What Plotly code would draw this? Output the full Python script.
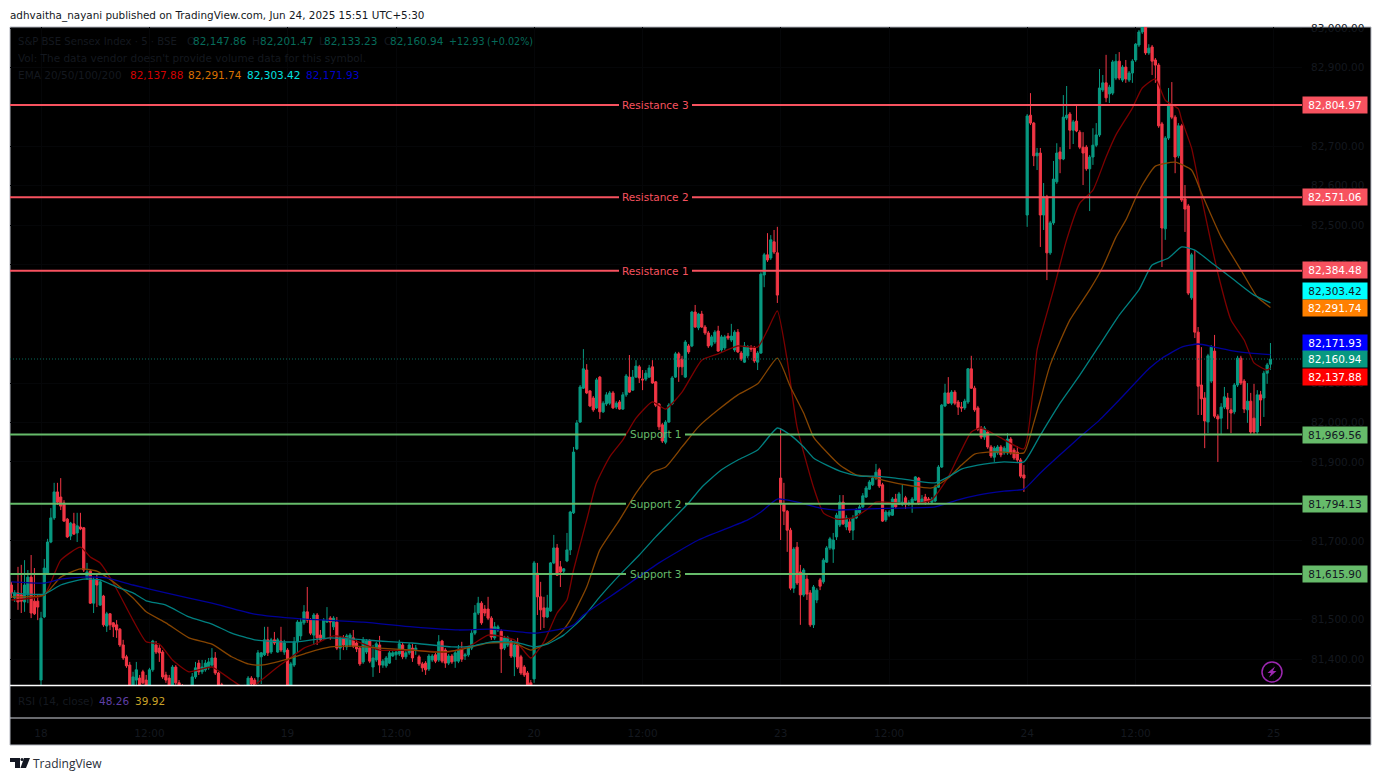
import plotly.graph_objects as go

W, H = 1381, 780

opens = [
81588,81555,81568,81563,81545,81563,81608,81547,81547,81347,
81507,81618,81697,81758,81824,81811,81796,81755,81712,81743,
81720,81735,81733,81606,81623,81542,81603,81537,81560,81484,
81515,81492,81487,81476,81436,81406,81385,81329,81347,81352,
81368,81347,81322,81373,81436,81428,81418,81360,81352,81322,
81380,81340,81332,81322,81302,81317,81355,81390,81368,81373,
81378,81385,81403,81365,81335,81317,81296,81314,81291,81309,
81289,81304,81322,81352,81347,81355,81406,81411,81449,81418,
81449,81418,81446,81418,81423,81322,81385,81444,81459,81492,
81520,81499,81461,81512,81461,81454,81494,81504,81482,81494,
81428,81454,81431,81436,81454,81441,81428,81393,81418,81446,
81380,81398,81436,81385,81383,81390,81408,81411,81413,81436,
81406,81416,81428,81423,81406,81388,81390,81375,81398,81411,
81398,81446,81423,81390,81408,81395,81395,81426,81408,81411,
81428,81466,81517,81542,81527,81527,81504,81454,81474,81471,
81428,81436,81446,81406,81436,81406,81380,81365,81340,81350,
81618,81558,81530,81507,81522,81644,81682,81634,81623,81649,
81677,81771,81933,82001,82087,82133,82080,82062,82037,82115,
82027,82047,82049,82075,82039,82052,82034,82070,82115,82082,
82115,82141,82110,82110,82115,82141,82103,82047,81994,81950,
82001,82047,82115,82174,82161,82115,82194,82194,82280,82240,
82275,82242,82227,82196,82204,82232,82184,82189,82219,82209,
82184,82229,82176,82153,82169,82189,82189,82153,82176,82374,
82425,82417,82458,82430,81859,81793,81775,81727,81580,81684,
81621,81563,81603,81568,81487,81550,81601,81596,81646,81682,
81679,81710,81740,81798,81735,81748,81727,81758,81771,81786,
81811,81831,81842,81859,81880,81842,81753,81765,81765,81806,
81793,81793,81809,81793,81793,81803,81859,81796,81811,81806,
81798,81801,81836,81887,82042,82075,82049,82077,82052,82039,
82037,82052,82136,82087,82037,81986,81963,81976,81938,81912,
81923,81938,81923,81923,81958,81930,81925,81905,81867,82526,
82779,82759,82676,82683,82526,82572,82430,82506,82610,82686,
82668,82772,82782,82741,82764,82736,82698,82698,82643,82673,
82703,82729,82843,82861,82833,82835,82873,82916,82868,82901,
82868,82886,82919,82957,82990,83003,82937,82952,82919,82906,
82757,82491,82721,82802,82774,82676,82752,82567,82549,82316,
82384,82229,82095,82062,82001,82105,82181,82016,82011,82039,
82062,82032,82027,82095,82163,82105,82032,82054,82011,81976,
82070,82062,82125,82147.86,
]

highs = [
81596,81575,81634,81639,81651,81626,81664,81631,81563,81520,
81654,81705,81783,81847,81847,81859,81803,81758,81748,81771,
81771,81771,81735,81644,81626,81608,81618,81601,81563,81520,
81517,81494,81499,81479,81449,81411,81393,81368,81393,81360,
81373,81360,81378,81449,81446,81436,81423,81368,81360,81385,
81385,81347,81337,81327,81322,81365,81393,81398,81398,81398,
81403,81428,81418,81368,81340,81322,81322,81319,81317,81322,
81322,81335,81357,81357,81352,81423,81418,81482,81482,81454,
81469,81454,81482,81449,81428,81393,81456,81499,81504,81537,
81583,81504,81517,81517,81474,81504,81532,81509,81509,81507,
81459,81461,81464,81466,81474,81449,81433,81456,81451,81451,
81436,81444,81459,81400,81408,81421,81421,81423,81449,81441,
81423,81441,81439,81436,81411,81393,81395,81413,81413,81416,
81461,81449,81428,81413,81413,81421,81436,81444,81416,81433,
81474,81537,81558,81547,81537,81558,81509,81494,81487,81476,
81459,81459,81451,81441,81454,81411,81385,81370,81347,81649,
81644,81596,81558,81563,81646,81715,81692,81649,81631,81720,
81776,81938,82006,82095,82186,82148,82082,82067,82113,82118,
82054,82077,82080,82080,82054,82057,82077,82123,82171,82133,
82158,82146,82133,82133,82146,82158,82105,82049,81999,82006,
82049,82118,82179,82179,82169,82209,82199,82283,82298,82278,
82283,82247,82232,82222,82234,82245,82222,82222,82227,82250,
82234,82237,82181,82204,82196,82196,82194,82181,82381,82430,
82480,82475,82488,82496,81986,81847,81778,81733,81684,81697,
81639,81631,81613,81575,81588,81580,81606,81656,81687,81710,
81720,81771,81816,81816,81765,81758,81765,81783,81791,81821,
81839,81854,81864,81895,81885,81847,81778,81778,81811,81819,
81824,81842,81814,81803,81811,81864,81862,81816,81819,81811,
81811,81842,81892,82047,82098,82115,82082,82082,82057,82052,
82060,82138,82169,82093,82042,81991,81991,81981,81943,81940,
81943,81943,81940,81973,81963,81935,81940,81910,81892,82782,
82835,82762,82696,82696,82607,82577,82511,82663,82708,82698,
82830,82853,82787,82767,82805,82741,82736,82703,82678,82746,
82759,82896,82881,82932,82856,82919,82934,82939,82906,82919,
82891,82921,82962,82995,83020,83020,82959,82957,82924,82911,
82762,82726,82848,82863,82779,82759,82757,82602,82554,82430,
82437,82242,82191,82077,82174,82196,82222,82021,82049,82090,
82075,82062,82100,82169,82169,82110,82100,82075,82098,82082,
82080,82131,82151,82201.47,
]

lows = [
81555,81545,81525,81517,81520,81542,81504,81512,81499,81322,
81504,81616,81694,81753,81791,81778,81748,81707,81702,81715,
81697,81727,81621,81601,81540,81517,81532,81535,81482,81469,
81474,81456,81454,81431,81398,81378,81322,81317,81332,81317,
81337,81317,81317,81368,81413,81393,81350,81340,81322,81317,
81335,81322,81309,81296,81296,81312,81350,81360,81362,81368,
81373,81380,81360,81327,81296,81289,81284,81284,81281,81279,
81284,81296,81317,81332,81317,81337,81337,81408,81408,81413,
81436,81416,81418,81411,81317,81317,81380,81416,81449,81487,
81492,81461,81436,81436,81444,81449,81492,81449,81474,81423,
81398,81423,81423,81431,81428,81418,81383,81388,81413,81390,
81355,81393,81365,81378,81378,81388,81406,81398,81408,81400,
81400,81411,81393,81411,81383,81368,81360,81370,81393,81390,
81393,81390,81378,81385,81388,81378,81390,81393,81398,81406,
81423,81461,81512,81487,81509,81499,81449,81449,81469,81365,
81423,81431,81403,81357,81375,81360,81355,81329,81322,81340,
81512,81474,81479,81504,81520,81641,81611,81583,81618,81646,
81664,81768,81930,81999,82085,82072,82039,82027,82034,82009,
82024,82042,82044,82034,82034,82032,82032,82065,82075,82080,
82113,82100,82082,82105,82113,82098,82039,81981,81948,81945,
81999,82044,82113,82103,82120,82113,82174,82191,82240,82234,
82240,82222,82189,82191,82199,82179,82179,82184,82209,82204,
82179,82176,82156,82151,82163,82179,82151,82133,82174,82343,
82407,82412,82427,82303,81702,81740,81672,81575,81568,81588,
81487,81558,81550,81482,81479,81542,81575,81591,81644,81677,
81644,81702,81735,81740,81727,81720,81702,81755,81765,81783,
81809,81829,81839,81854,81834,81748,81748,81760,81763,81781,
81791,81788,81781,81788,81771,81801,81791,81793,81791,81793,
81793,81798,81834,81885,82039,82047,82044,82044,82019,82027,
82032,82047,82085,82027,81978,81958,81956,81933,81910,81900,
81918,81912,81918,81918,81918,81905,81900,81859,81824,82496,
82754,82650,82640,82445,82488,82361,82425,82501,82605,82632,
82665,82767,82693,82706,82736,82693,82602,82638,82536,82653,
82698,82724,82838,82812,82810,82830,82868,82868,82863,82861,
82863,82861,82914,82952,82985,82932,82932,82881,82861,82747,
82394,82463,82716,82769,82632,82670,82559,82483,82323,82311,
82214,82019,82019,81935,81973,82100,82011,81900,81968,82034,
81983,81973,82021,82090,82095,82024,81999,81971,81971,81971,
81991,82014,82098,82133.23,
]

closes = [
81568,81568,81545,81547,81588,81608,81517,81515,81532,81504,
81631,81697,81758,81824,81798,81788,81750,81710,81745,81717,
81738,81730,81626,81621,81542,81601,81588,81596,81487,81515,
81487,81482,81474,81436,81403,81383,81329,81355,81373,81327,
81340,81322,81373,81446,81418,81416,81355,81347,81327,81380,
81340,81329,81317,81302,81317,81355,81378,81368,81380,81390,
81393,81403,81365,81335,81309,81296,81314,81291,81309,81289,
81317,81327,81352,81337,81322,81416,81416,81449,81416,81449,
81441,81449,81423,81441,81322,81388,81444,81494,81494,81520,
81499,81466,81512,81454,81449,81499,81499,81494,81504,81428,
81454,81436,81459,81461,81433,81426,81388,81449,81446,81395,
81403,81439,81385,81395,81403,81416,81416,81418,81439,81406,
81416,81436,81403,81428,81388,81378,81373,81408,81408,81395,
81444,81395,81390,81408,81393,81416,81426,81400,81411,81428,
81466,81517,81542,81492,81517,81504,81456,81482,81482,81426,
81454,81454,81408,81436,81380,81365,81360,81335,81327,81644,
81558,81525,81507,81530,81644,81682,81613,81621,81629,81677,
81773,81925,81999,82090,82136,82075,82042,82032,82108,82027,
82049,82070,82075,82037,82049,82034,82070,82118,82077,82115,
82143,82113,82108,82125,82138,82100,82044,81989,81953,82001,
82044,82113,82174,82141,82141,82204,82179,82280,82242,82275,
82242,82227,82194,82217,82229,82181,82217,82217,82214,82219,
82229,82179,82161,82194,82191,82186,82156,82176,82376,82425,
82412,82463,82432,82323,81793,81775,81727,81580,81679,81593,
81563,81626,81565,81487,81583,81575,81585,81651,81682,81705,
81702,81765,81798,81743,81758,81727,81758,81778,81786,81814,
81834,81849,81859,81874,81839,81750,81773,81773,81806,81786,
81819,81798,81793,81796,81806,81862,81796,81806,81798,81801,
81806,81836,81887,82044,82075,82049,82077,82049,82039,82037,
82054,82136,82087,82032,81983,81963,81986,81938,81915,81935,
81938,81918,81935,81958,81923,81910,81905,81864,81859,82777,
82759,82676,82683,82526,82572,82430,82506,82617,82683,82668,
82774,82779,82741,82762,82739,82698,82683,82643,82673,82703,
82729,82848,82861,82823,82850,82914,82916,82873,82901,82871,
82886,82916,82959,82990,83003,82937,82949,82916,82906,82752,
82493,82721,82802,82774,82673,82752,82564,82541,82328,82425,
82229,82092,82060,82004,82169,82191,82016,82009,82039,82065,
82034,82024,82095,82163,82100,82034,82054,81976,81976,82070,
82057,82125,82146,82160.94,
]

bars = list(range(-9, 375))

ema20_bar = [-9,1,6,12,15,18,22,28,32,36,40,45,52,58,63,67,72,75,80,84,89,95,103,113,124,131,136,144,149,153,157,160,162,166,169,173,177,181,186,190,195,201,206,212,218,221,224,227,230,235,238,242,247,251,254,260,265,271,276,279,283,286,292,299,302,303,308,312,316,320,324,327,332,335,339,342,346,347,350,353,358,362,366,369,373,374]
ema20_val = [81550,81563,81651,81684,81659,81644,81593,81499,81444,81438,81398,81368,81380,81347,81322,81347,81380,81398,81428,81441,81459,81449,81423,81423,81418,81436,81461,81449,81403,81444,81517,81550,81626,81753,81847,81913,81956,82011,82052,82034,82077,82158,82174,82194,82191,82234,82283,82158,81989,81836,81771,81755,81758,81778,81798,81796,81793,81804,81862,81913,81976,81986,81961,81933,82100,82184,82336,82463,82556,82589,82673,82729,82797,82848,82871,82817,82795,82767,82696,82572,82379,82260,82209,82151,82133,82137.88]

ema50_bar = [-9,1,6,12,17,22,28,32,38,45,52,58,63,67,75,81,88,95,103,113,120,127,136,144,149,154,158,161,166,170,176,181,186,190,195,200,206,212,218,224,228,232,235,239,243,248,253,257,265,271,276,280,284,288,293,299,302,304,307,313,319,323,327,330,333,335,339,345,350,353,359,365,370,374]
ema50_val = [81558,81563,81608,81629,81623,81596,81555,81520,81492,81454,81438,81406,81388,81385,81400,81416,81431,81433,81428,81423,81418,81423,81441,81441,81423,81441,81466,81499,81583,81677,81753,81821,81874,81887,81938,81989,82032,82070,82098,82163,82090,82024,81963,81925,81892,81867,81862,81852,81839,81834,81859,81892,81920,81925,81925,81923,81999,82057,82146,82260,82336,82394,82470,82513,82569,82602,82650,82660,82640,82582,82470,82387,82318,82291.74]

ema100_bar = [-9,1,6,13,18,23,28,32,38,45,52,58,65,73,78,88,103,113,125,131,137,144,150,154,159,165,170,176,182,187,192,197,201,207,212,218,224,228,232,235,239,244,249,254,260,266,272,276,280,285,289,293,299,304,310,316,322,328,334,338,343,347,351,357,363,369,374]
ema100_val = [81568,81565,81588,81603,81601,81583,81568,81548,81537,81507,81489,81466,81449,81444,81444,81454,81446,81441,81431,81433,81444,81444,81431,81438,81461,81507,81558,81613,81664,81710,81753,81796,81836,81880,81905,81930,81986,81968,81938,81910,81892,81874,81864,81864,81859,81852,81847,81862,81882,81892,81897,81900,81900,81968,82049,82120,82196,82272,82336,82399,82417,82445,82437,82399,82361,82323,82303.42]

ema200_bar = [-9,1,6,13,20,28,38,52,65,79,98,113,127,137,150,157,162,165,176,188,200,215,219,224,230,237,242,252,262,272,279,285,293,299,304,310,316,322,328,337,341,347,352,357,363,368,374]
ema200_val = [81596,81593,81603,81608,81606,81588,81568,81542,81514,81502,81494,81482,81474,81476,81466,81474,81487,81512,81575,81644,81702,81753,81773,81806,81798,81783,81778,81781,81783,81786,81804,81816,81826,81831,81872,81918,81963,82006,82057,82136,82163,82191,82199,82191,82181,82176,82171.93]

tick_bars = [0, 33, 75, 108, 150, 183, 225, 258, 300, 333, 375]
tick_labels = ["18", "12:00", "19", "12:00", "20", "12:00", "23", "12:00", "24", "12:00", "25"]
price_ticks = [81400, 81500, 81700, 81900, 82000, 82100, 82400, 82500, 82600, 82700, 82900, 83000]

resistance_names = ["Resistance 3", "Resistance 2", "Resistance 1"]
resistance_levels = [82804.97, 82571.06, 82384.48]
support_names = ["Support 1", "Support 2", "Support 3"]
support_levels = [81969.56, 81794.13, 81615.90]
last_price = 82160.94

FONT = "DejaVu Sans"
DIM = "#14181f"
UP, DOWN = "#089981", "#F23645"
RES, SUP = "#F7525F", "#66BB6A"


def px(x):
    return x / W


def py(y):
    return 1 - y / H


fig = go.Figure()
fig.add_trace(go.Candlestick(
    x=bars, open=opens, high=highs, low=lows, close=closes,
    increasing=dict(line=dict(color=UP, width=1), fillcolor=UP),
    decreasing=dict(line=dict(color=DOWN, width=1), fillcolor=DOWN),
    whiskerwidth=0, showlegend=False, hoverinfo="skip",
))
for bx, val, col in [
    (ema20_bar, ema20_val, "#7d0000"),
    (ema50_bar, ema50_val, "#854400"),
    (ema100_bar, ema100_val, "#008080"),
    (ema200_bar, ema200_val, "#000099"),
]:
    fig.add_trace(go.Scatter(x=bx, y=val, mode="lines",
                             line=dict(color=col, width=1.3, shape="spline", smoothing=0.5),
                             showlegend=False, hoverinfo="skip"))

shapes = []
# dark frame
shapes.append(dict(type="rect", xref="paper", yref="paper", layer="below",
                   x0=px(10), x1=px(1371), y0=py(745), y1=py(27),
                   fillcolor="#000000", line=dict(color="#b2b5be", width=1)))


def hline(x0, x1, level, color):
    shapes.append(dict(type="line", xref="paper", yref="y", x0=px(x0), x1=px(x1),
                       y0=level, y1=level, line=dict(color=color, width=2), layer="above"))


for lv in resistance_levels:
    hline(10, 619, lv, RES)
    hline(692, 1302, lv, RES)
for lv in support_levels:
    hline(10, 626, lv, SUP)
    hline(685, 1302, lv, SUP)
shapes.append(dict(type="line", xref="paper", yref="y", x0=px(10), x1=px(1302),
                   y0=last_price, y1=last_price, layer="above",
                   line=dict(color="#066b5a", width=1, dash="1px,2px")))
# pane separators
shapes.append(dict(type="line", xref="paper", yref="paper", x0=px(10), x1=px(1371),
                   y0=py(685.5), y1=py(685.5), line=dict(color="#ffffff", width=1.5), layer="above"))
shapes.append(dict(type="line", xref="paper", yref="paper", x0=px(10), x1=px(1371),
                   y0=py(718), y1=py(718), line=dict(color="#d1d4dc", width=1), layer="above"))
# lightning badge
shapes.append(dict(type="circle", xref="paper", yref="paper", x0=px(1262), x1=px(1282),
                   y0=py(682), y1=py(662), line=dict(color="#9C27B0", width=1.5), layer="above"))
bolt = [(1275, 666.5), (1267.5, 673), (1271, 673), (1269, 677.5), (1276.5, 671), (1273, 671)]
shapes.append(dict(type="path", xref="paper", yref="paper", layer="above",
                   path="M" + " L".join(f"{px(a):.5f},{py(b):.5f}" for a, b in bolt) + " Z",
                   fillcolor="#9C27B0", line=dict(width=0)))
# TradingView logo
logo = [
    [(10, 758), (20, 758), (20, 768), (15, 768), (15, 762), (10, 762)],
    [(24, 758), (30, 758), (26, 768), (20.5, 768)],
]
for poly in logo:
    shapes.append(dict(type="path", xref="paper", yref="paper", layer="above",
                       path="M" + " L".join(f"{px(a):.5f},{py(b):.5f}" for a, b in poly) + " Z",
                       fillcolor="#131722", line=dict(width=0)))
shapes.append(dict(type="circle", xref="paper", yref="paper", layer="above",
                   x0=px(20.5), x1=px(23.5), y0=py(761), y1=py(758),
                   fillcolor="#131722", line=dict(width=0)))

ann = []


def text(x, y, s, color, size=10.5, anchor="left", family=FONT):
    ann.append(dict(xref="paper", yref="paper", x=px(x), y=py(y), text=s, showarrow=False,
                    xanchor=anchor, yanchor="middle", font=dict(family=family, size=size, color=color),
                    borderpad=0, borderwidth=0))


text(10, 15, "adhvaitha_nayani published on TradingView.com, Jun 24, 2025 15:51 UTC+5:30", "#131722", 10.4)
text(33, 763, "TradingView", "#2a2e39", 12, family="Open Sans")

TEAL_TXT = "#066b5a"
text(18, 41, "S&amp;P BSE Sensex Index · 5 · BSE", DIM, 10.1)
for x, s, c in [(187, "O", DIM), (193, "82,147.86", TEAL_TXT), (252, "H", DIM), (260, "82,201.47", TEAL_TXT),
                (319, "L", DIM), (324, "82,133.23", TEAL_TXT), (384, "C", DIM), (390, "82,160.94", TEAL_TXT)]:
    text(x, 41, s, c)
text(449, 41, "+12.93", TEAL_TXT, 9.6)
text(487, 41, "(+0.02%)", TEAL_TXT, 9.6)
text(18, 58, "Vol: The data vendor doesn't provide volume data for this symbol.", DIM)
text(18, 75, "EMA 20/50/100/200", DIM)
for x, s, c in [(130, "82,137.88", "#d40000"), (188, "82,291.74", "#d97000"),
                (247, "82,303.42", "#00e0e0"), (306, "82,171.93", "#0000c8")]:
    text(x, 75, s, c)
text(18, 701, "RSI (14, close)", DIM)
text(99, 701, "48.26", "#5e3fa5")
text(135, 701, "39.92", "#c9a227")

for name, lv in zip(resistance_names, resistance_levels):
    ann.append(dict(xref="paper", yref="y", x=px(655.5), y=lv, text=name, showarrow=False,
                    font=dict(family=FONT, size=10.5, color=RES)))
for name, lv in zip(support_names, support_levels):
    ann.append(dict(xref="paper", yref="y", x=px(655.5), y=lv, text=name, showarrow=False,
                    font=dict(family=FONT, size=10.5, color=SUP)))

# price labels on the right
label_rows = [
    ("82,804.97", 105, RES, "#ffffff"),
    ("82,571.06", 197, RES, "#ffffff"),
    ("82,384.48", 270, RES, "#ffffff"),
    ("82,303.42", 291, "#00FFFF", "#131722"),
    ("82,291.74", 308, "#FF8000", "#ffffff"),
    ("82,171.93", 342.5, "#0000FF", "#ffffff"),
    ("82,160.94", 359.5, UP, "#ffffff"),
    ("82,137.88", 376.5, "#FF0000", "#ffffff"),
    ("81,969.56", 435, SUP, "#131722"),
    ("81,794.13", 504, SUP, "#131722"),
    ("81,615.90", 574, SUP, "#131722"),
]
for s, y, bg, fg in label_rows:
    ann.append(dict(xref="paper", yref="paper", x=px(1302), y=py(y), xanchor="left", yanchor="middle",
                    text=s, showarrow=False, bgcolor=bg, width=64, height=16, align="center",
                    borderpad=0, font=dict(family=FONT, size=10.5, color=fg)))

fig.update_layout(
    width=W, height=H, margin=dict(l=0, r=0, t=0, b=0, autoexpand=False), autosize=False,
    paper_bgcolor="#ffffff", plot_bgcolor="#000000", showlegend=False,
    shapes=shapes, annotations=ann, boxgap=0.05,
    font=dict(family=FONT, size=10.5, color=DIM),
    xaxis=dict(domain=[px(10), px(1302)], range=[-9.43, 383.6], rangeslider=dict(visible=False),
               tickmode="array", tickvals=tick_bars, ticktext=tick_labels, anchor="free",
               position=py(718), ticks="", showline=False, zeroline=False, showgrid=True,
               gridcolor="#050608", gridwidth=1, ticklabelstandoff=7, automargin=False,
               tickfont=dict(family=FONT, size=10.5, color=DIM)),
    yaxis=dict(domain=[py(685), py(27)], range=[81334.5, 83002.6], side="right", automargin=False,
               tickmode="array", tickvals=price_ticks, tickformat=",.2f", ticks="",
               showline=False, zeroline=False, showgrid=True, gridcolor="#050608", gridwidth=1,
               ticklabelstandoff=8, tickfont=dict(family=FONT, size=10.5, color=DIM)),
)

fig.write_html("out.html", config=dict(displayModeBar=False),
               post_script="document.body.style.margin='0';document.body.style.overflow='hidden';")
